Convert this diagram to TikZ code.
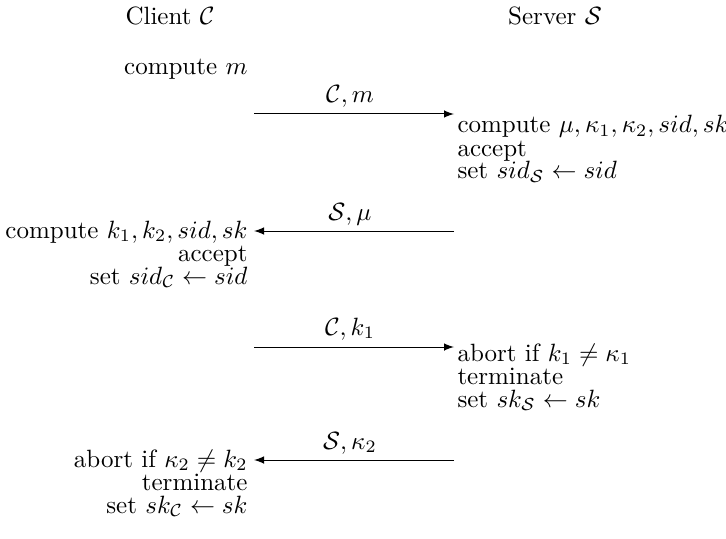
\documentclass[tikz,border=0pt]{standalone}
\usepackage{amsmath,amssymb}
\begin{document}
\begin{tikzpicture}[x=0.4pt,y=-0.4pt,
  ttl/.style={inner sep=0pt, anchor=base},
  lbl/.style={inner sep=0pt, anchor=base},
  cl/.style={inner sep=0pt, anchor=base east},
  sv/.style={inner sep=0pt, anchor=base west},
  msg/.style={-latex, line width=0.4pt}]
\useasboundingbox (0,0) rectangle (726,539);
% titles
\node[ttl] (ct) at (170,25) {Client $\mathcal{C}$};
\node[ttl] (st) at (555,25) {Server $\mathcal{S}$};
% client start
\node[cl] (c0) at (248,75) {compute $m$};
% message 1
\coordinate (a1s) at (254,114);
\coordinate (a1e) at (454,114);
\draw[msg] (a1s) -- (a1e);
\node[lbl] (l1) at (350,103) {$\mathcal{C}, m$};
\node[sv] (s1a) at (457,133) {compute $\mu, \kappa_1, \kappa_2, sid, sk$};
\node[sv] (s1b) at (457,156) {accept};
\node[sv] (s1c) at (457,179) {set $sid_{\mathcal{S}} \leftarrow sid$};
% message 2
\coordinate (a2s) at (454,231);
\coordinate (a2e) at (254,231);
\draw[msg] (a2s) -- (a2e);
\node[lbl] (l2) at (350,220) {$\mathcal{S}, \mu$};
\node[cl] (c1a) at (248,238) {compute $k_1, k_2, sid, sk$};
\node[cl] (c1b) at (248,261) {accept};
\node[cl] (c1c) at (248,284) {set $sid_{\mathcal{C}} \leftarrow sid$};
% message 3
\coordinate (a3s) at (254,347);
\coordinate (a3e) at (454,347);
\draw[msg] (a3s) -- (a3e);
\node[lbl] (l3) at (350,335) {$\mathcal{C}, k_1$};
\node[sv] (s2a) at (457,361) {abort if $k_1 \neq \kappa_1$};
\node[sv] (s2b) at (457,384) {terminate};
\node[sv] (s2c) at (457,407) {set $sk_{\mathcal{S}} \leftarrow sk$};
% message 4
\coordinate (a4s) at (454,460);
\coordinate (a4e) at (254,460);
\draw[msg] (a4s) -- (a4e);
\node[lbl] (l4) at (350,449) {$\mathcal{S}, \kappa_2$};
\node[cl] (c2a) at (248,467) {abort if $\kappa_2 \neq k_2$};
\node[cl] (c2b) at (248,490) {terminate};
\node[cl] (c2c) at (248,513) {set $sk_{\mathcal{C}} \leftarrow sk$};
\end{tikzpicture}
\end{document}
